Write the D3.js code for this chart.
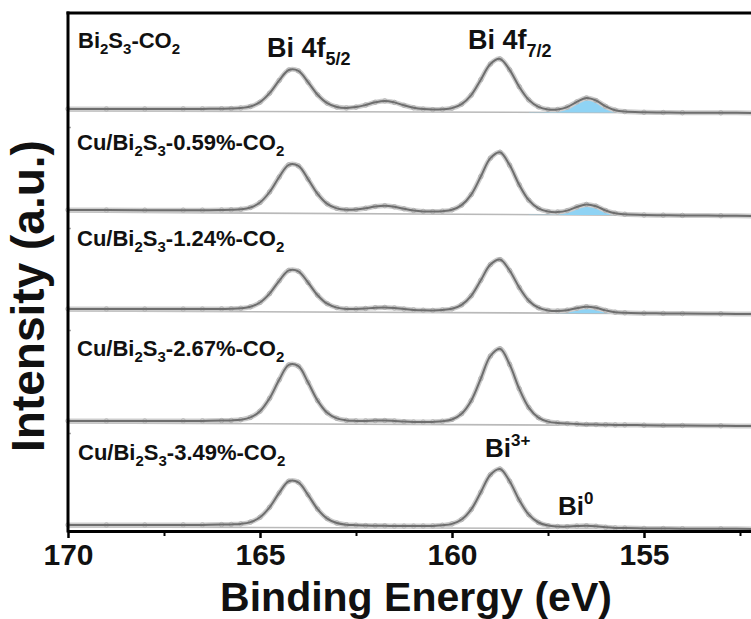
<!DOCTYPE html>
<html>
<head>
<meta charset="utf-8">
<script src="https://cdn.jsdelivr.net/npm/d3@7"></script>
<style>
  html, body { margin: 0; padding: 0; background: #fff; }
  svg { display: block; }
</style>
</head>
<body>
<svg id="chart" width="751" height="619"></svg>
<script>
// ---- Bi 4f XPS spectra, stacked ----
// Shared binding-energy grid (eV)
const energies = [170, 169, 168, 167, 166.5,
  166, 165.75, 165.5, 165.25, 165, 164.75, 164.5, 164.25, 164, 163.75, 163.5, 163.25,
  163, 162.75, 162.5, 162.25, 162, 161.75, 161.5, 161.25, 161, 160.75, 160.5, 160.25,
  160, 159.75, 159.5, 159.25, 159, 158.75, 158.5, 158.25, 158, 157.75, 157.5, 157.25,
  157, 156.75, 156.5, 156.25, 156, 155.75, 155.5,
  155, 154.5, 154, 153, 152];

// Sample names (_x / _{..} = subscript)
const sampleNames = [
  "Bi_2S_3-CO_2",
  "Cu/Bi_2S_3-0.59%-CO_2",
  "Cu/Bi_2S_3-1.24%-CO_2",
  "Cu/Bi_2S_3-2.67%-CO_2",
  "Cu/Bi_2S_3-3.49%-CO_2"
];

// Intensity above each spectrum's stacking offset (a.u.)
const specBi2S3 = [2.1,2.0,2.0,2.1,2.1,2.3,2.5,3.0,4.5,8.8,17.8,30.6,41.0,40.1,28.9,16.2,7.8,4.0,3.1,3.9,6.0,8.7,10.1,8.6,5.7,3.2,1.9,1.4,1.7,2.9,6.9,15.9,31.3,47.0,52.1,41.2,24.3,11.1,4.2,1.6,1.5,3.9,9.1,13.0,10.5,4.6,0.8,-0.6,-1.3,-1.5,-1.7,-1.8,-2.0];
const specCu059 = [2.1,1.9,1.8,1.8,1.8,2.0,2.2,2.7,4.5,9.5,20.0,35.0,47.2,46.1,32.9,18.1,8.1,3.6,2.2,2.5,3.7,5.5,6.3,5.2,3.2,1.5,0.6,0.4,0.8,2.2,6.9,17.4,35.5,53.9,59.8,46.9,27.2,11.8,3.6,0.5,-0.1,1.4,5.0,7.6,5.8,1.5,-1.3,-2.3,-3.0,-3.2,-3.4,-3.7,-4.0];
const specCu124 = [2.1,2.0,1.9,1.9,1.9,2.1,2.2,2.7,4.2,8.5,17.4,30.2,40.6,39.7,28.5,15.8,7.3,3.4,2.1,2.0,2.5,3.3,3.6,3.0,1.9,1.1,0.7,0.6,1.0,2.2,6.2,15.2,30.7,46.4,51.5,40.5,23.6,10.3,3.3,0.6,0.0,0.8,2.8,4.3,3.2,0.6,-1.2,-1.8,-2.2,-2.4,-2.6,-2.8,-3.0];
const specCu267 = [2.1,2.0,2.0,2.1,2.1,2.4,2.6,3.3,5.6,11.8,24.7,43.2,58.1,56.8,40.7,22.4,10.2,4.6,2.6,2.1,2.1,2.4,2.5,2.0,1.4,1.0,0.9,1.1,1.7,3.5,9.3,22.3,44.4,67.0,74.3,58.6,34.3,15.4,5.4,1.4,0.0,-0.6,-1.0,-1.4,-1.6,-1.7,-1.9,-1.9,-2.2,-2.4,-2.5,-2.8,-3.0];
const specCu349 = [2.1,2.0,2.0,2.1,2.1,2.4,2.6,3.1,4.9,9.7,19.7,34.1,45.8,44.7,32.2,17.9,8.4,4.0,2.3,1.8,1.4,1.3,1.2,0.9,0.9,0.9,1.0,1.1,1.7,3.1,7.5,17.6,34.8,52.3,58.0,45.8,27.0,12.3,4.5,1.4,0.5,0.4,0.9,1.2,0.7,-0.3,-0.9,-1.1,-1.4,-1.5,-1.7,-1.8,-2.0];
const spectra = [specBi2S3, specCu059, specCu124, specCu267, specCu349];

// Vertical stacking offsets (a.u.)
const offsets = [420, 319, 220, 108, 4];

// Linear background end values at 170 eV and 152 eV
const bgLeft  = [0, 0, 0, 0, 0];
const bgRight = [-2, -4, -3, -3, -2];

// Fitted Bi(0) component (height above background)
const bi0Energies = [158, 157.75, 157.5, 157.25, 157, 156.75, 156.5, 156.25, 156, 155.75, 155.5, 155];
const bi0Fits = [
  [0.2, 0.3, 0.5, 1.3, 4.2, 9.7, 13.9, 11.5, 5.7, 2.0, 0.6, 0.2],
  [0.1, 0.2, 0.3, 1.0, 3.0, 6.9, 9.9, 8.2, 4.1, 1.4, 0.5, 0.1],
  [0.1, 0.1, 0.2, 0.6, 1.8, 4.1, 5.9, 4.9, 2.5, 0.8, 0.3, 0.1],
  null,
  null
];

// Axis ticks
const majorTicks = [170, 165, 160, 155];
const minorTicks = [167.5, 162.5, 157.5, 152.5];
const leftTicks = [98, 201, 303, 404];

// ---- drawing ----
const svg = d3.select("#chart");
const FONT = "'Liberation Sans', Arial, Helvetica, sans-serif";
const NARROW = "'Liberation Sans Narrow', 'Arial Narrow', 'Liberation Sans', Arial, sans-serif";
const plotLeft = 68, plotTop = 13, plotBottom = 531;

const x = d3.scaleLinear().domain([170, 152]).range([plotLeft, plotLeft + 18 * 38.4]);
const y = d3.scaleLinear().domain([0, 518]).range([plotBottom, plotTop]);

function bgAt(i, e) {
  return offsets[i] + bgLeft[i] + (bgRight[i] - bgLeft[i]) * (170 - e) / 18;
}

const gSpectra = svg.append("g");

spectra.forEach((vals, i) => {
  const pts = energies.map((e, k) => [e, offsets[i] + vals[k]]);
  const g = gSpectra.append("g");

  // background line
  g.append("line")
    .attr("x1", x(170)).attr("y1", y(bgAt(i, 170)))
    .attr("x2", x(152)).attr("y2", y(bgAt(i, 152)))
    .attr("stroke", "#b9b9b9").attr("stroke-width", 1.6);

  // Bi(0) component fill
  if (bi0Fits[i]) {
    const comp = bi0Energies.map((e, k) => ({ e, base: bgAt(i, e), v: bi0Fits[i][k] }));
    g.append("path")
      .datum(comp)
      .attr("d", d3.area()
        .x(d => x(d.e))
        .y0(d => y(d.base))
        .y1(d => y(d.base + d.v))
        .curve(d3.curveCatmullRom))
      .attr("fill", "#8fd3f4");
  }

  const line = d3.line().x(d => x(d[0])).y(d => y(d[1])).curve(d3.curveCatmullRom);

  // measured points: soft band of open circles
  g.append("path").datum(pts).attr("d", line)
    .attr("fill", "none").attr("stroke", "#cdcdcd").attr("stroke-width", 5)
    .attr("stroke-linejoin", "round");
  g.selectAll("circle").data(pts).join("circle")
    .attr("cx", d => x(d[0])).attr("cy", d => y(d[1])).attr("r", 2.2)
    .attr("fill", "none").attr("stroke", "#b3b3b3").attr("stroke-width", 1);

  // fitted envelope
  g.append("path").datum(pts).attr("d", line)
    .attr("fill", "none").attr("stroke", "#6e6e6e").attr("stroke-width", 2)
    .attr("stroke-linejoin", "round");
});

// ---- text with sub/superscripts ----
function richText(parent, str, px, py, size, smallSize, shiftSub, shiftSup) {
  const t = parent.append("text")
    .attr("x", px).attr("y", py)
    .attr("font-family", FONT).attr("font-weight", "bold")
    .attr("font-size", size).attr("fill", "#111");
  const re = /([_^])(\{[^}]*\}|.)/g;
  let last = 0, m;
  const parts = [];
  while ((m = re.exec(str)) !== null) {
    if (m.index > last) parts.push({ s: str.slice(last, m.index), k: "n" });
    let s = m[2];
    if (s[0] === "{") s = s.slice(1, -1);
    parts.push({ s, k: m[1] === "_" ? "sub" : "sup" });
    last = re.lastIndex;
  }
  if (last < str.length) parts.push({ s: str.slice(last), k: "n" });
  parts.forEach(p => {
    const ts = t.append("tspan").text(p.s);
    if (p.k === "n") ts.attr("y", py);
    else ts.attr("font-size", smallSize).attr("y", p.k === "sub" ? py + shiftSub : py - shiftSup);
  });
  return t;
}

const labelPos = [[78, 48], [77, 150], [77, 246], [77, 356], [78, 460]];
sampleNames.forEach((n, i) => richText(svg, n, labelPos[i][0], labelPos[i][1], 22, 15, 6, 0));

richText(svg, "Bi 4f_{5/2}", 267, 57, 27, 18, 8, 0);
richText(svg, "Bi 4f_{7/2}", 468, 49, 27, 18, 8, 0);
richText(svg, "Bi^{3+}", 485, 457, 26, 17, 0, 11);
richText(svg, "Bi^{0}", 558, 515, 26, 17, 0, 11);

// ---- frame and axes ----
const xAxis = d3.axisBottom(x).tickValues(majorTicks).tickSize(7).tickSizeOuter(0)
  .tickFormat(d3.format("d"));
const gx = svg.append("g").attr("transform", `translate(0,${plotBottom})`).call(xAxis);
gx.select(".domain").attr("stroke", "#000").attr("stroke-width", 3);
gx.selectAll(".tick line").attr("stroke", "#000").attr("stroke-width", 2.5);
gx.selectAll(".tick text")
  .attr("y", 34).attr("dy", 0)
  .attr("font-family", NARROW).attr("font-weight", "bold").attr("font-size", 30)
  .attr("fill", "#111");
const gxMinor = svg.append("g").attr("transform", `translate(0,${plotBottom})`)
  .call(d3.axisBottom(x).tickValues(minorTicks).tickSize(5).tickFormat(""));
gxMinor.select(".domain").remove();
gxMinor.selectAll(".tick line").attr("stroke", "#000").attr("stroke-width", 2);

const gy = svg.append("g").attr("transform", `translate(${plotLeft},0)`)
  .call(d3.axisLeft(y).tickValues(leftTicks).tickSize(-3).tickFormat(""));
gy.select(".domain").remove();
gy.selectAll(".tick line").attr("stroke", "#aaa").attr("stroke-width", 1.5);

svg.append("line").attr("x1", plotLeft).attr("x2", plotLeft).attr("y1", plotTop - 1.5).attr("y2", plotBottom + 1.5)
  .attr("stroke", "#000").attr("stroke-width", 3);
svg.append("line").attr("x1", plotLeft - 1.5).attr("x2", 751).attr("y1", plotTop).attr("y2", plotTop)
  .attr("stroke", "#000").attr("stroke-width", 3);

// axis titles
svg.append("text")
  .attr("transform", "translate(44,296) rotate(-90)")
  .attr("text-anchor", "middle")
  .attr("font-family", FONT).attr("font-weight", "bold").attr("font-size", 46)
  .attr("fill", "#111")
  .text("Intensity (a.u.)");
svg.append("text")
  .attr("x", 416).attr("y", 611)
  .attr("text-anchor", "middle")
  .attr("font-family", FONT).attr("font-weight", "bold").attr("font-size", 41)
  .attr("fill", "#111")
  .text("Binding Energy (eV)");
</script>
</body>
</html>
